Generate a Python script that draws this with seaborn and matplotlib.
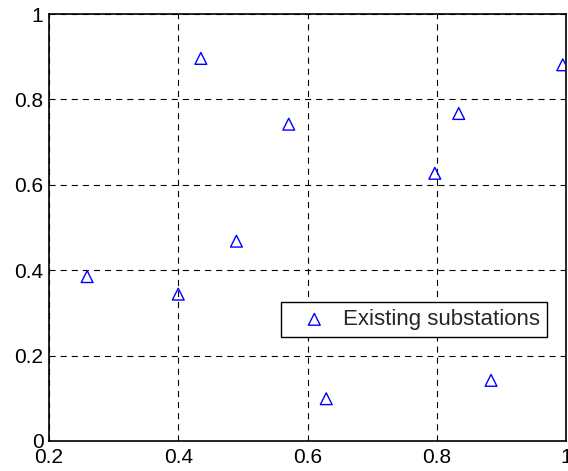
import matplotlib
matplotlib.use("Agg")
import matplotlib.pyplot as plt
import seaborn as sns
import pandas as pd

x_vals = [0.259, 0.400, 0.435, 0.490, 0.571, 0.629, 0.797, 0.834, 0.884, 0.995]
y_vals = [0.385, 0.344, 0.896, 0.468, 0.742, 0.099, 0.627, 0.767, 0.142, 0.881]
series_label = "Existing substations"
x_ticks = [0.2, 0.4, 0.6, 0.8, 1.0]
x_tick_labels = ["0.2", "0.4", "0.6", "0.8", "1"]
y_ticks = [0, 0.2, 0.4, 0.6, 0.8, 1.0]
y_tick_labels = ["0", "0.2", "0.4", "0.6", "0.8", "1"]

sns.set_style("white")
plt.rcParams['font.family'] = ['Liberation Sans', 'DejaVu Sans']

df = pd.DataFrame({"x": x_vals, "y": y_vals})

fig = plt.figure(figsize=(5.68, 4.71), dpi=100)
ax = fig.add_axes([49/568, 30/471, 517/568, 427/471])

sns.scatterplot(data=df, x="x", y="y", marker="^", s=72, facecolors="none",
                edgecolor="blue", linewidth=1.0, label=series_label, ax=ax, zorder=3)

ax.set_xlim(0.2, 1.0)
ax.set_ylim(0, 1.0)
ax.set_xticks(x_ticks)
ax.set_xticklabels(x_tick_labels)
ax.set_yticks(y_ticks)
ax.set_yticklabels(y_tick_labels)
ax.set_xlabel("")
ax.set_ylabel("")
ax.tick_params(axis="both", labelsize=15, colors="black", length=0)
ax.tick_params(axis="x", pad=5)
ax.tick_params(axis="y", pad=4)

ax.grid(True, color="black", linestyle=(0, (5.5, 4.5)), linewidth=0.8)
ax.set_axisbelow(True)
for sp in ax.spines.values():
    sp.set_visible(True)
    sp.set_color("black")
    sp.set_linewidth(1.2)

leg = ax.legend(loc="lower right", bbox_to_anchor=(0.963, 0.244), borderaxespad=0,
                fontsize=16, fancybox=False, framealpha=1, edgecolor="black",
                handletextpad=0.1, borderpad=0.3, handlelength=2.4)
leg.get_frame().set_linewidth(1.0)

fig.savefig("out.png", dpi=100)
